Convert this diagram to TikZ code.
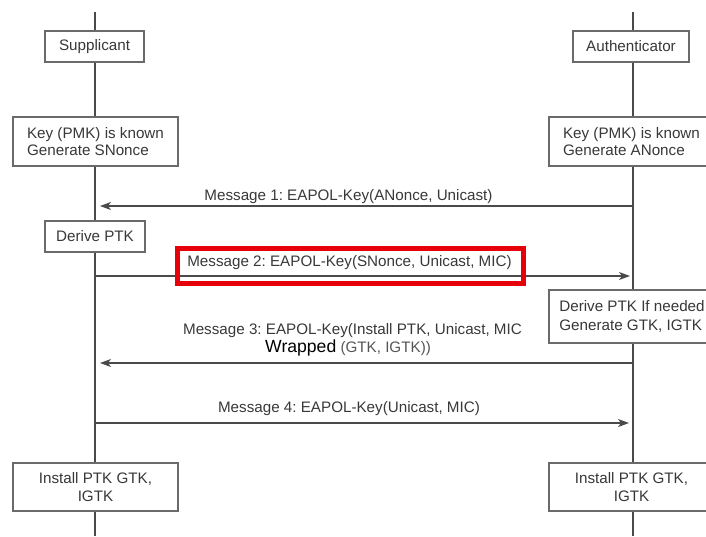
\documentclass[tikz,border=0pt]{standalone}
\usepackage{fontspec}
\setmainfont{Liberation Sans}
\usetikzlibrary{arrows.meta}
\definecolor{inkgray}{HTML}{383838}
\definecolor{softgray}{HTML}{555555}
\definecolor{linegray}{HTML}{4A4A4A}
\definecolor{boxgray}{HTML}{6A6A6A}
\definecolor{alertred}{HTML}{E5000A}
\frenchspacing

\begin{document}
\begin{tikzpicture}[x=1pt,y=-1pt,
  lbl/.style={font=\fontsize{15.2}{17.6}\selectfont, text=inkgray},
  lifeline/.style={draw=linegray, line width=1.8pt},
  stepbox/.style={draw=boxgray, line width=1.3pt, fill=white, inner sep=0pt, lbl},
  headbox/.style={stepbox, minimum height=31pt},
  keybox/.style={stepbox, minimum width=165pt, minimum height=49pt, align=left},
  installbox/.style={stepbox, minimum width=165pt, minimum height=48pt, align=center,
    font=\fontsize{15.2}{18.6}\selectfont},
  msg/.style={draw=linegray, line width=1.2pt, -{Stealth[length=11pt, width=8pt, inset=3pt]}},
  msglabel/.style={lbl, anchor=base, inner sep=0pt},
  highlight/.style={draw=alertred, line width=5pt, inner sep=0pt}]

\useasboundingbox (0,0) rectangle (706,536);
\clip (0,0) rectangle (706,536);

% lifelines
\coordinate (supTop) at (95,12);
\coordinate (supBot) at (95,536);
\coordinate (autTop) at (633,12);
\coordinate (autBot) at (633,536);
\draw[lifeline] (supTop) -- (supBot);
\draw[lifeline] (autTop) -- (autBot);

% participants
\node[headbox, minimum width=99pt] (supp) at (94.5,46.5) {Supplicant};
\node[headbox, minimum width=116pt] (auth) at (631,46.5) {Authenticator};

% initial state
\node[keybox] (skey) at (95.5,141.5) {Key (PMK) is known\\Generate SNonce};
\node[keybox] (akey) at (631.5,141.5) {Key (PMK) is known\\Generate ANonce};

% message 1
\coordinate (m1a) at (633,206);
\coordinate (m1s) at (95,206);
\draw[msg, shorten >=5pt] (m1a) -- (m1s);
\node[msglabel] (m1) at (348.5,200) {Message 1: EAPOL-Key(ANonce, Unicast)};

% supplicant derives PTK
\node[headbox, minimum width=100pt] (sderive) at (95,236.5) {Derive PTK};

% message 2
\coordinate (m2s) at (95,276);
\coordinate (m2a) at (633,276);
\draw[msg, shorten >=3pt] (m2s) -- (m2a);
\node[msglabel] (m2) at (349.5,266.5) {Message 2: EAPOL-Key(SNonce, Unicast, MIC)};
\node[highlight, minimum width=346pt, minimum height=35pt] (m2mark) at (350.5,266) {};

% authenticator derives keys
\node[stepbox, minimum width=166pt, minimum height=53pt, align=left,
  font=\fontsize{15.2}{19}\selectfont] (aderive) at (632,316.5)
  {Derive PTK If needed\\Generate GTK, IGTK};

% message 3
\coordinate (m3a) at (633,363);
\coordinate (m3s) at (95,363);
\draw[msg, shorten >=5pt] (m3a) -- (m3s);
\node[msglabel] (m3) at (352.5,334) {Message 3: EAPOL-Key(Install PTK, Unicast, MIC};
\node[msglabel, anchor=base west] (m3b) at (265,352.7)
  {{\fontsize{17.6}{20}\selectfont\color{black}Wrapped} \textcolor{softgray}{(GTK, IGTK))}};

% message 4
\coordinate (m4s) at (95,423);
\coordinate (m4a) at (633,423);
\draw[msg, shorten >=4pt] (m4s) -- (m4a);
\node[msglabel] (m4) at (349,412.7) {Message 4: EAPOL-Key(Unicast, MIC)};

% final state
\node[installbox] (sinst) at (95.5,487) {Install PTK GTK,\\IGTK};
\node[installbox] (ainst) at (631.5,487) {Install PTK GTK,\\IGTK};

\end{tikzpicture}
\end{document}
